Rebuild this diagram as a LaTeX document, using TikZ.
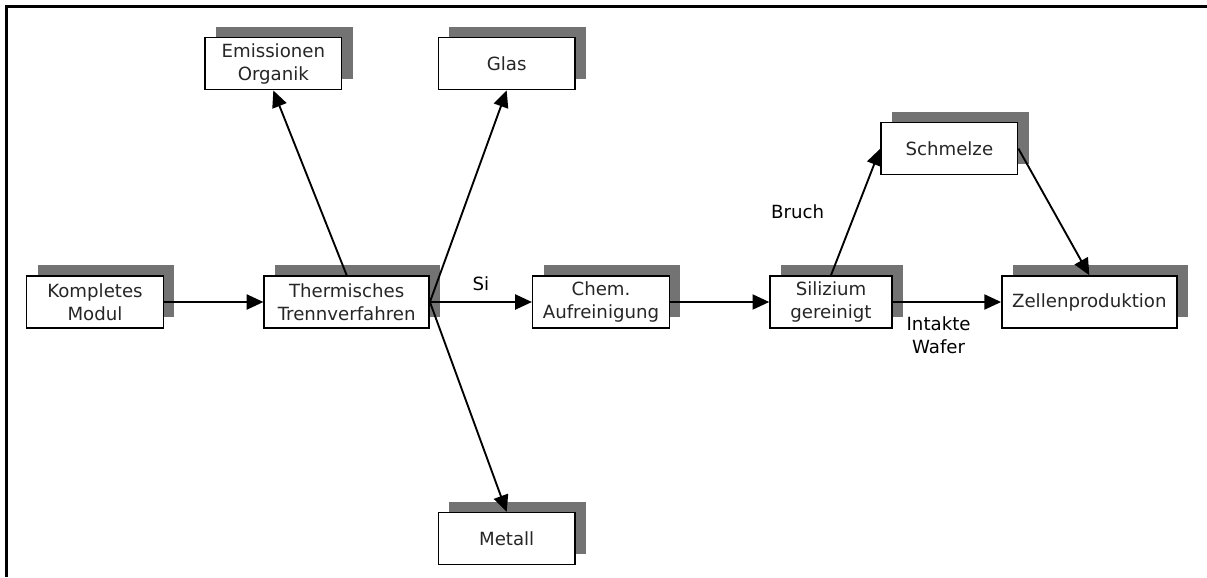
\documentclass[tikz,border=0pt]{standalone}
\usepackage{fontspec}
\setmainfont{DejaVu Sans}
\usetikzlibrary{arrows.meta, shadows}
\tikzset{%
    >={Triangle[width=4.5mm,length=5mm]},
    kasten/.style  = {rectangle, draw=black, fill=white, line width=1.3pt,
                      minimum width=4.1cm, minimum height=1.56cm,
                      text centered, text=black!85,
                      general shadow={fill=black!55, shadow xshift=0.33cm,
                                      shadow yshift=0.33cm}},
    pfeil/.style   = {->, line width=1.6pt},
    rahmen/.style  = {line width=1.8pt},
}

\begin{document}
\begin{tikzpicture}[node distance=7.6cm,
    every node/.style={align=center, font=\fontsize{15.5}{19.5}\selectfont}]
    \useasboundingbox (-2.85,-8.25) rectangle (33.36,9.06);
    \draw[rahmen] (-2.655,-8.25) |- (33.36,8.865);

    \node (modul)    [kasten] {Kompletes\\Modul};
    \node (trenn)    [kasten, right of=modul, xshift=-0.05cm, minimum width=4.95cm] {Thermisches\\Trennverfahren};
    \node (emis)     [kasten, above of=trenn, yshift=-0.45cm, xshift=-2.2cm] {Emissionen\\Organik};
    \node (glas)     [kasten, above of=trenn, yshift=-0.45cm, xshift=4.8cm] {Glas};
    \node (metall)   [kasten, below of=trenn, yshift=0.5cm, xshift=4.8cm] {Metall};
    \node (chem)     [kasten, right of=trenn, xshift=0.03cm] {Chem.\\Aufreinigung};
    \node (silizium) [kasten, right of=chem, xshift=-0.7cm, minimum width=3.66cm] {Silizium\\gereinigt};
    \node (schmelze) [kasten, above of=silizium, yshift=-3cm, xshift=3.55cm] {Schmelze};
    \node (zellen)   [kasten, right of=silizium, xshift=0.15cm, minimum width=5.25cm] {Zellenproduktion};

    \draw[pfeil] (modul)          -- (trenn);
    \draw[pfeil] (trenn.north)    -- (emis.south);
    \draw[pfeil] (trenn.east)     -- (glas.south);
    \draw[pfeil] (trenn.east)     -- (metall.north);
    \draw[pfeil] (trenn.east)     -- node[above, yshift=0.2cm] {Si} (chem.west);
    \draw[pfeil] (chem)           -- (silizium);
    \draw[pfeil] (silizium.north) -- node[left, xshift=-0.8cm] {Bruch} (schmelze.west);
    \draw[pfeil] (schmelze.east)  -- (zellen.north);
    \draw[pfeil] (silizium)       -- node[below, xshift=-0.25cm, yshift=-0.3cm] {Intakte\\Wafer} (zellen);
\end{tikzpicture}
\end{document}
